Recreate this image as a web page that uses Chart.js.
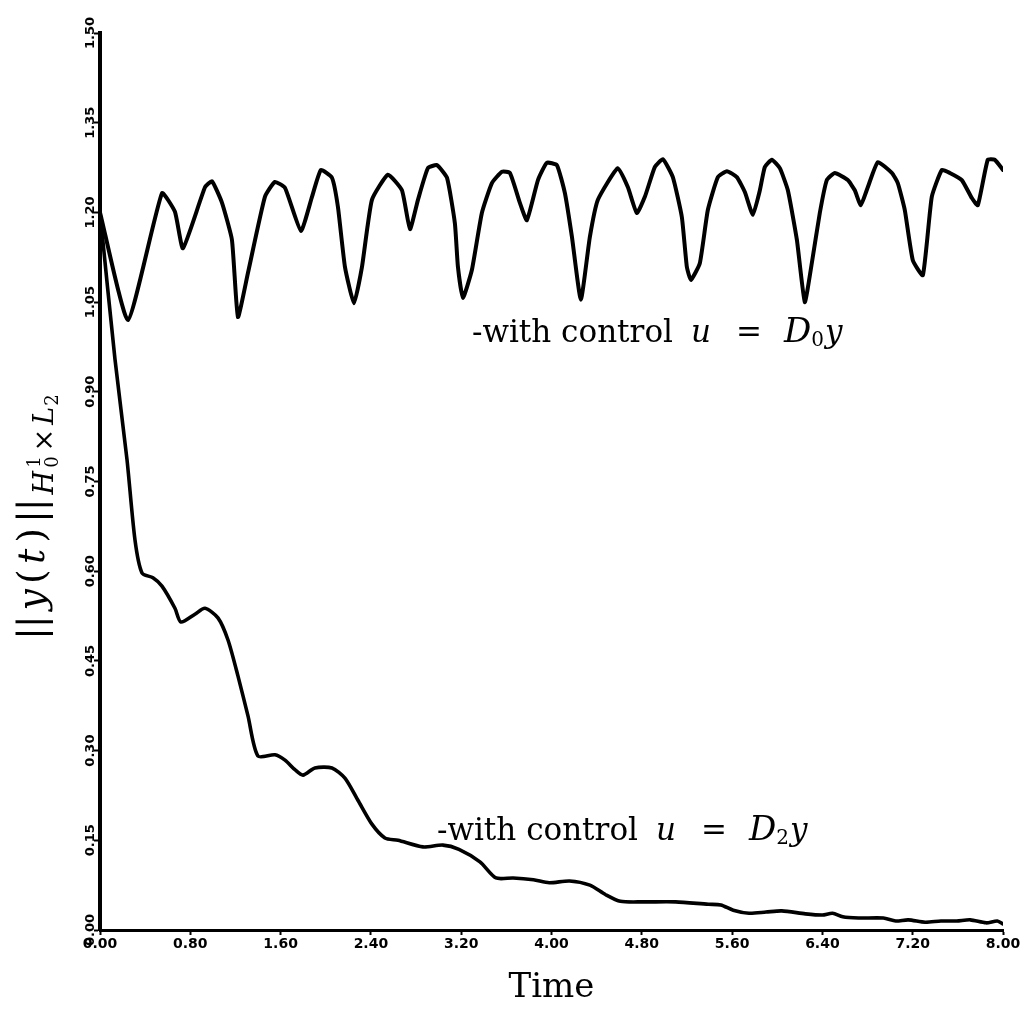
<!DOCTYPE html>
<html><head><meta charset="utf-8">
<script src="https://cdn.jsdelivr.net/npm/chart.js@4.4.0/dist/chart.umd.min.js"></script>
<style>html,body{margin:0;padding:0;background:#fff}#wrap{width:1033px;height:1017px}</style>
</head><body><div id="wrap"><canvas id="c" width="1033" height="1017"></canvas></div>
<script>
// ---- data ----
const timeD0 = [0,0.248,0.549,0.664,0.735,0.930,0.992,1.081,1.169,1.222,1.311,1.461,1.550,1.639,1.780,1.878,1.957,2.055,2.108,2.170,2.250,2.321,2.409,2.551,2.675,2.746,2.817,2.905,2.985,3.074,3.144,3.171,3.215,3.295,3.383,3.472,3.561,3.632,3.720,3.782,3.880,3.959,4.048,4.119,4.181,4.260,4.340,4.411,4.588,4.677,4.756,4.827,4.916,4.987,5.075,5.155,5.199,5.235,5.314,5.385,5.474,5.554,5.642,5.713,5.784,5.846,5.890,5.952,6.023,6.094,6.174,6.244,6.306,6.377,6.439,6.510,6.625,6.687,6.740,6.802,6.891,7.015,7.068,7.130,7.201,7.290,7.369,7.458,7.529,7.635,7.724,7.777,7.865,7.927,8.0];
const normD0 = [1.200,1.020,1.232,1.201,1.140,1.242,1.252,1.216,1.154,1.025,1.099,1.226,1.251,1.241,1.169,1.226,1.271,1.258,1.209,1.109,1.048,1.109,1.221,1.263,1.237,1.172,1.221,1.274,1.279,1.258,1.182,1.109,1.057,1.104,1.199,1.249,1.268,1.266,1.216,1.187,1.254,1.283,1.279,1.232,1.159,1.054,1.159,1.221,1.274,1.242,1.199,1.226,1.276,1.289,1.259,1.192,1.109,1.087,1.115,1.204,1.259,1.269,1.259,1.234,1.196,1.237,1.276,1.288,1.274,1.237,1.154,1.050,1.115,1.199,1.254,1.266,1.254,1.237,1.212,1.242,1.284,1.266,1.249,1.204,1.120,1.095,1.226,1.271,1.266,1.254,1.224,1.212,1.288,1.288,1.271];
const timeD2 = [0,0.133,0.239,0.310,0.372,0.469,0.549,0.664,0.717,0.841,0.930,1.045,1.134,1.222,1.311,1.399,1.550,1.639,1.727,1.798,1.904,2.055,2.170,2.285,2.409,2.524,2.640,2.861,3.038,3.180,3.366,3.508,3.660,3.840,3.980,4.160,4.340,4.480,4.610,4.810,5.100,5.390,5.500,5.610,5.750,5.900,6.040,6.250,6.400,6.490,6.580,6.720,6.940,7.050,7.160,7.310,7.450,7.590,7.710,7.850,7.950,8.0];
const normD2 = [1.200,0.954,0.787,0.652,0.597,0.589,0.575,0.538,0.515,0.528,0.538,0.522,0.485,0.425,0.358,0.291,0.293,0.284,0.268,0.259,0.271,0.271,0.254,0.217,0.177,0.154,0.150,0.139,0.142,0.135,0.114,0.087,0.087,0.084,0.079,0.082,0.075,0.059,0.048,0.047,0.047,0.043,0.042,0.033,0.028,0.030,0.032,0.027,0.025,0.028,0.022,0.020,0.020,0.015,0.017,0.013,0.015,0.015,0.017,0.012,0.015,0.010];
const xTickValues = [0,0.8,1.6,2.4,3.2,4.0,4.8,5.6,6.4,7.2,8.0];
const xTickLabels = ["0.00","0.80","1.60","2.40","3.20","4.00","4.80","5.60","6.40","7.20","8.00"];
const yTickValues = [0,0.15,0.30,0.45,0.60,0.75,0.90,1.05,1.20,1.35,1.50];
const yTickLabels = ["0.00","0.15","0.30","0.45","0.60","0.75","0.90","1.05","1.20","1.35","1.50"];
const xTitle = "Time";
// annotation labels: anchor (data coords) and subscript
const labelD0 = {t: 3.295, v: 0.983, sub: "0"};
const labelD2 = {t: 2.985, v: 0.150, sub: "2"};

const SERIF = '"DejaVu Serif", "Liberation Serif", serif';

function drawRuns(ctx, runs, x, y) {
  let cx = x;
  for (const r of runs) {
    ctx.font = r.font;
    if (r.at !== undefined) cx = x + r.at;
    if (r.stack) {
      ctx.fillText(r.sup, cx, y + r.supDy);
      ctx.fillText(r.sub, cx, y + r.subDy);
      cx += Math.max(ctx.measureText(r.sup).width, ctx.measureText(r.sub).width) + (r.after || 0);
    } else {
      ctx.fillText(r.text, cx, y + (r.dy || 0));
      cx += ctx.measureText(r.text).width + (r.after || 0);
    }
  }
  return cx - x;
}

function controlRuns(sub) {
  const F = 31, f = 20;
  return [
    {text: "-with control", font: `${F}px ${SERIF}`},
    {text: "u", font: `italic ${F}px ${SERIF}`, at: 219},
    {text: "=", font: `${F}px ${SERIF}`, at: 264},
    {text: "D", font: `italic ${F + 3}px ${SERIF}`, at: 312},
    {text: sub, font: `${f}px ${SERIF}`, dy: 4, after: 1},
    {text: "y", font: `italic ${F}px ${SERIF}`}
  ];
}

const annotPlugin = {
  id: 'annot',
  afterDraw(chart) {
    const ctx = chart.ctx, xs = chart.scales.x, ys = chart.scales.y;
    ctx.save();
    ctx.fillStyle = '#000';
    ctx.textBaseline = 'alphabetic';
    ctx.textAlign = 'left';
    for (const L of [labelD0, labelD2]) {
      drawRuns(ctx, controlRuns(L.sub), xs.getPixelForValue(L.t), ys.getPixelForValue(L.v));
    }
    // y-axis title ||y(t)||_{H_0^1 x L_2}
    const F = 38, f = 27, ff = 18, g = 5;
    ctx.translate(44, 640);
    ctx.rotate(-Math.PI / 2);
    drawRuns(ctx, [
      {text: "|", font: `${F}px ${SERIF}`, after: -1},
      {text: "|", font: `${F}px ${SERIF}`, after: g},
      {text: "y", font: `italic ${F}px ${SERIF}`, after: g},
      {text: "(", font: `${F}px ${SERIF}`, after: g},
      {text: "t", font: `italic ${F}px ${SERIF}`, after: g + 1},
      {text: ")", font: `${F}px ${SERIF}`, after: g},
      {text: "|", font: `${F}px ${SERIF}`, after: -1},
      {text: "|", font: `${F}px ${SERIF}`, after: 4},
      {text: "H", font: `italic ${f}px ${SERIF}`, dy: 9, after: 3},
      {stack: true, sup: "1", sub: "0", font: `${ff}px ${SERIF}`, supDy: -4, subDy: 14, after: 5},
      {text: "×", font: `${f}px ${SERIF}`, dy: 9, after: 4},
      {text: "L", font: `italic ${f}px ${SERIF}`, dy: 9, after: 1},
      {text: "2", font: `${ff}px ${SERIF}`, dy: 14}
    ], 0, 0);
    ctx.restore();
  }
};

new Chart(document.getElementById('c'), {
  type: 'line',
  data: {
    datasets: [
      {label: 'u = D0y', data: timeD0.map((t, i) => ({x: t, y: normD0[i]})),
       borderColor: '#000', borderWidth: 4, pointRadius: 0, tension: 0.15,
       borderJoinStyle: 'round', borderCapStyle: 'round', fill: false},
      {label: 'u = D2y', data: timeD2.map((t, i) => ({x: t, y: normD2[i]})),
       borderColor: '#000', borderWidth: 3.6, pointRadius: 0, tension: 0.25,
       borderJoinStyle: 'round', borderCapStyle: 'round', fill: false}
    ]
  },
  options: {
    responsive: false,
    animation: false,
    devicePixelRatio: 1,
    layout: {padding: {left: 0, right: 30, top: 33, bottom: 0}},
    plugins: {legend: {display: false}, tooltip: {enabled: false}},
    scales: {
      x: {
        type: 'linear', min: 0, max: 8,
        border: {display: true, width: 3, color: '#000'},
        grid: {drawOnChartArea: false, drawTicks: true, tickLength: 5, tickWidth: 2, color: '#000'},
        afterBuildTicks: s => { s.ticks = xTickValues.map(v => ({value: v})); },
        ticks: {autoSkip: false, maxRotation: 0, padding: 1, color: '#000',
                font: {family: 'DejaVu Sans', weight: 'bold', size: 14},
                callback: (v, i) => xTickLabels[i]},
        title: {display: true, text: xTitle, color: '#000',
                font: {family: 'DejaVu Serif', size: 34}, padding: {top: 0, bottom: 8}},
        afterFit: s => { s.height = 87; }
      },
      y: {
        type: 'linear', min: 0, max: 1.5,
        border: {display: true, width: 4, color: '#000'},
        grid: {drawOnChartArea: false, drawTicks: true, tickLength: 6, tickWidth: 2, color: '#000'},
        afterBuildTicks: s => { s.ticks = yTickValues.map(v => ({value: v})); },
        ticks: {autoSkip: false, minRotation: 90, maxRotation: 90, crossAlign: 'center', padding: -13,
                color: '#000', font: {family: 'DejaVu Sans', weight: 'bold', size: 13},
                callback: (v, i) => yTickLabels[i]},
        afterFit: s => { s.width = 100; }
      }
    }
  },
  plugins: [annotPlugin]
});
</script>
</body></html>
